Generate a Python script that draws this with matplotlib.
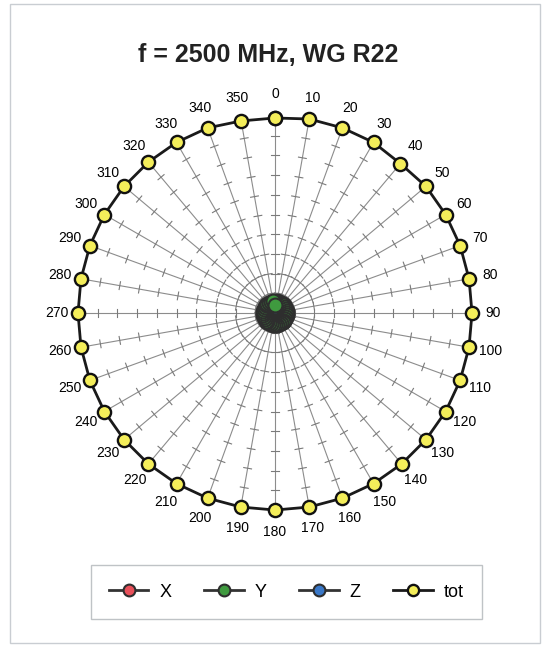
import matplotlib
matplotlib.use('Agg')
import matplotlib.pyplot as plt
import numpy as np
from matplotlib.patches import Rectangle

plt.rcParams['font.family'] = ['Liberation Sans', 'DejaVu Sans']

# angles in degrees (0 .. 350)
angles = list(range(0, 360, 10))
angle_labels = [str(a) for a in angles]

# field components (normalised)
x_vals = [0.05, 0.05, 0.05, 0.05, 0.05, 0.05, 0.05, 0.05, 0.05, 0.05, 0.05, 0.05,
          0.05, 0.05, 0.05, 0.05, 0.05, 0.05, 0.05, 0.05, 0.05, 0.05, 0.05, 0.05,
          0.05, 0.05, 0.05, 0.05, 0.05, 0.05, 0.05, 0.05, 0.05, 0.05, 0.05, 0.05]
y_vals = [0.04, 0.06, 0.06, 0.06, 0.06, 0.06, 0.06, 0.06, 0.06, 0.06, 0.06, 0.06,
          0.06, 0.06, 0.06, 0.06, 0.06, 0.06, 0.06, 0.06, 0.06, 0.06, 0.06, 0.06,
          0.06, 0.06, 0.06, 0.06, 0.06, 0.06, 0.06, 0.06, 0.06, 0.06, 0.06, 0.06]
z_vals = [0.03, 0.03, 0.03, 0.03, 0.03, 0.03, 0.03, 0.03, 0.03, 0.03, 0.03, 0.03,
          0.03, 0.03, 0.03, 0.03, 0.03, 0.03, 0.03, 0.03, 0.03, 0.03, 0.03, 0.03,
          0.03, 0.03, 0.03, 0.03, 0.03, 0.03, 0.03, 0.03, 0.03, 0.03, 0.03, 0.03]
tot_vals = [0.99, 1.00, 1.00, 1.00, 0.99, 1.00, 1.00, 1.00, 1.00, 1.00, 1.00, 1.00,
            1.00, 1.00, 1.00, 1.00, 1.00, 1.00, 1.00, 1.00, 1.00, 1.00, 1.00, 1.00,
            1.00, 1.00, 1.00, 1.00, 1.00, 1.00, 1.00, 1.00, 1.00, 1.00, 1.00, 0.99]
r_ticks = [0.1, 0.2, 0.3, 0.4, 0.5, 0.6, 0.7, 0.8, 0.9]

fig = plt.figure(figsize=(5.42, 6.47), dpi=100)
fig.patches.append(Rectangle((10 / 542, 4 / 647), 530 / 542, 639 / 647,
                             transform=fig.transFigure, fill=False,
                             edgecolor='#c9cdd2', linewidth=1))

ax = fig.add_axes([0.1439, 0.2117, 0.727, 0.609], projection='polar')
ax.set_theta_zero_location('N')
ax.set_theta_direction(-1)
ax.set_ylim(0, 1.0)
ax.spines['polar'].set_visible(False)
ax.set_facecolor('none')

th = np.deg2rad(angles)
ax.set_thetagrids(angles, angle_labels, fontsize=10)
ax.tick_params(axis='x', pad=5)
ax.set_yticks([])
ax.grid(False)

# spokes and their tick marks (short segments across each spoke)
half = 0.02  # half tick length, axis units
for t in th:
    ax.plot([t, t], [0, 1.0], color='#8c8c8c', lw=0.8, zorder=1)
    tt, rr = [], []
    for r in r_ticks:
        d = np.arctan(half / r)
        rad = np.hypot(r, half)
        tt += [t - d, t + d, np.nan]
        rr += [rad, rad, np.nan]
    ax.plot(tt, rr, color='#7a7a7a', lw=0.8, zorder=1)

def closed(v):
    return list(v) + [v[0]]

tc = closed(list(th))
style = dict(color='#333333', lw=2, marker='o', markersize=10,
             markeredgecolor='#2e2e2e', markeredgewidth=1.5)
ax.plot(tc, closed(z_vals), markerfacecolor='#3a78c8', label='Z', zorder=2, **style)
ax.plot(tc, closed(x_vals), markerfacecolor='#e8505a', label='X', zorder=3, **style)
ax.plot(tc, closed(y_vals), markerfacecolor='#3f9a3f', label='Y', zorder=4, **style)
ax.plot(tc, closed(tot_vals), color='#1a1a1a', lw=2, marker='o', markersize=9.5,
        markerfacecolor='#f4ee5a', markeredgecolor='#111111', markeredgewidth=1.7,
        label='tot', zorder=5, clip_on=False)

fig.text(0.495, 0.915, 'f = 2500 MHz, WG R22', ha='center', va='center',
         fontsize=18, fontweight='bold', color='#222222')

h, l = ax.get_legend_handles_labels()
order = [l.index(k) for k in ['X', 'Y', 'Z', 'tot']]
leg = fig.legend([h[i] for i in order], [l[i] for i in order], loc='center',
                 bbox_to_anchor=(0.528, 0.085), ncol=4, fontsize=13,
                 frameon=True, fancybox=False, handlelength=2.2,
                 handletextpad=0.6, columnspacing=1.8, borderpad=1.0,
                 markerscale=0.85)
leg.get_frame().set_edgecolor('#b0b4b8')
leg.get_frame().set_linewidth(1)

fig.savefig('out.png', dpi=100)
